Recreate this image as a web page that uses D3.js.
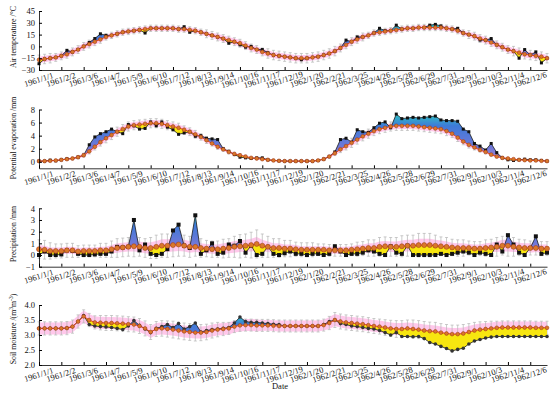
<!DOCTYPE html>
<html><head><meta charset="utf-8">
<script src="https://cdn.jsdelivr.net/npm/d3@7"></script>
<style>
body{margin:0;background:#fff;}
svg{display:block;font-family:"Liberation Serif","Times New Roman",serif;}
</style></head>
<body><svg id="chart" width="550" height="399"></svg>
<script>
// ---------- DATA (8-day steps starting 1961/1/1) ----------
const nPoints = 92;
const startDate = new Date(1961, 0, 1);
const tickLabels = ["1961/1/1","1961/2/2","1961/3/6","1961/4/7","1961/5/9","1961/6/10","1961/7/12","1961/8/13","1961/9/14","1961/10/16","1961/11/17","1961/12/19","1962/1/20","1962/2/21","1962/3/25","1962/4/26","1962/5/28","1962/6/29","1962/7/31","1962/9/1","1962/10/3","1962/11/4","1962/12/6"];

// Air temperature (°C)
const tempSim = [-17,-16,-15,-14,-12,-10,-7,-4, 0,3,6,9,12,14,16,18, 19,20,21,22,23,23,23,23, 23,22,22,21,20,18,16,14, 12,10,8,6,4,1,-2,-4, -7,-9,-11,-12,-13,-14,-15,-15, -15,-14,-13,-11,-9,-6,-2,2, 6,9,12,14,17,18,19,20, 21,22,23,23,24,24,24,24, 24,23,22,20,17,15,13,10, 8,5,2,-1,-4,-6,-8,-10, -11,-12,-13,-15];
const tempObs = [-22,-16,-15,-14,-12,-5,-7,-4, 0,5,10,16,14,14,16,18, 19,20,21,17,23,23,23,23, 23,22,25,18,20,18,16,14, 12,10,4,6,2,-1,0,-4, -4,-8,-11,-12,-13,-14,-15,-17, -15,-14,-13,-11,-9,-6,-2,8, 6,12,12,14,17,23,20,20, 27,22,23,23,24,24,27,28, 26,23,22,23,17,15,13,8, 8,10,2,-1,-4,-6,-15,-4, -11,-7,-21,-15];
const tempBand = [4,4,4,4,4,4,4,4, 4,4,4,4,3,3,3,3, 3,3,3,3,3,3,3,3, 3,3,3,3,3,3,3,3, 4,4,4,4,4,4,4,4, 4,4,4,4,4,4,4,4, 4,4,4,4,4,4,4,4, 4,4,4,3,3,3,3,3, 3,3,3,3,3,3,3,3, 3,3,3,3,3,3,4,4, 4,4,4,4,4,4,4,4, 4,4,4,4];
const tempErr = [6,6,6,5,5,5,5,5, 5,5,5,5,4,4,4,4, 4,4,4,4,4,4,4,4, 4,4,4,4,4,4,5,5, 5,5,5,5,5,5,5,5, 5,6,6,6,6,6,6,6, 6,6,6,6,6,6,5,5, 5,5,5,4,4,4,4,4, 4,4,4,4,4,4,4,4, 4,4,4,4,4,5,5,5, 5,5,5,5,5,6,6,6, 6,6,6,6];

// Potential evaporation (mm)
const evapSim = [0.1,0.1,0.15,0.2,0.3,0.4,0.5,0.7, 1.0,1.6,2.3,3.0,3.6,4.1,4.6,5.0, 5.4,5.6,5.7,5.8,5.9,5.9,5.8,5.6, 5.4,5.2,4.9,4.6,4.2,3.8,3.3,2.8, 2.3,1.9,1.5,1.2,1.0,0.8,0.6,0.5, 0.4,0.3,0.2,0.15,0.1,0.1,0.1,0.1, 0.1,0.1,0.2,0.4,0.8,1.3,1.9,2.4, 2.9,3.4,3.9,4.3,4.7,5.0,5.2,5.4, 5.5,5.5,5.5,5.5,5.4,5.3,5.2,5.1, 5.0,4.7,4.3,3.7,3.1,2.6,2.2,1.8, 1.5,1.1,0.8,0.6,0.5,0.4,0.3,0.25, 0.2,0.2,0.15,0.1];
const evapObs = [0.1,0.1,0.25,0.15,0.3,0.45,0.5,0.7, 1.0,2.6,3.8,4.3,4.6,5.0,4.6,4.3, 5.7,5.5,5.0,5.1,6.1,5.5,6.1,5.3, 4.9,4.2,4.4,4.6,3.9,4.0,3.6,3.5, 3.4,2.0,1.6,1.1,0.7,0.6,0.5,0.6, 0.6,0.3,0.2,0.15,0.1,0.1,0.1,0.1, 0.1,0.1,0.2,0.4,0.8,1.5,3.4,3.6, 3.0,4.9,4.6,4.5,5.2,5.9,6.1,5.2, 7.3,6.6,6.7,6.8,6.7,6.8,6.9,7.0, 6.4,6.3,6.3,6.2,5.0,4.6,2.8,2.4, 1.8,2.8,1.4,0.6,0.3,0.2,0.3,0.4, 0.3,0.3,0.2,0.1];
const evapBand = [0.1,0.1,0.1,0.1,0.1,0.1,0.15,0.2, 0.25,0.3,0.4,0.5,0.5,0.5,0.5,0.5, 0.5,0.5,0.5,0.5,0.5,0.5,0.5,0.5, 0.5,0.5,0.5,0.5,0.5,0.4,0.4,0.3, 0.3,0.25,0.2,0.2,0.15,0.15,0.1,0.1, 0.1,0.1,0.1,0.1,0.1,0.1,0.1,0.1, 0.1,0.1,0.1,0.1,0.2,0.3,0.4,0.5, 0.5,0.5,0.5,0.5,0.5,0.5,0.5,0.5, 0.5,0.5,0.5,0.5,0.5,0.5,0.5,0.5, 0.5,0.5,0.5,0.5,0.4,0.4,0.3,0.25, 0.2,0.2,0.15,0.1,0.1,0.1,0.1,0.1, 0.1,0.1,0.1,0.1];
const evapErr = [0.1,0.1,0.1,0.1,0.1,0.15,0.2,0.25, 0.3,0.4,0.5,0.6,0.7,0.7,0.7,0.7, 0.7,0.7,0.7,0.7,0.7,0.7,0.7,0.7, 0.7,0.7,0.6,0.6,0.6,0.5,0.5,0.4, 0.4,0.3,0.3,0.25,0.2,0.2,0.15,0.1, 0.1,0.1,0.1,0.1,0.1,0.1,0.1,0.1, 0.1,0.1,0.1,0.15,0.25,0.35,0.5,0.6, 0.7,0.7,0.7,0.7,0.7,0.7,0.7,0.7, 0.7,0.7,0.7,0.7,0.7,0.7,0.7,0.7, 0.7,0.7,0.6,0.6,0.5,0.5,0.4,0.3, 0.3,0.25,0.2,0.15,0.1,0.1,0.1,0.1, 0.1,0.1,0.1,0.1];

// Precipitation (mm)
const precSim = [0.5,0.45,0.35,0.35,0.35,0.4,0.4,0.3, 0.35,0.35,0.35,0.4,0.4,0.5,0.6,0.65, 0.7,0.75,0.7,0.6,0.6,0.7,0.8,0.8, 0.85,0.9,0.8,0.7,0.7,0.6,0.55,0.5, 0.5,0.55,0.6,0.7,0.75,0.8,0.85,0.95, 0.8,0.7,0.6,0.6,0.55,0.55,0.5,0.45, 0.45,0.45,0.45,0.45,0.4,0.4,0.4,0.4, 0.45,0.5,0.55,0.6,0.6,0.7,0.75,0.7, 0.7,0.75,0.8,0.8,0.85,0.85,0.85,0.8, 0.75,0.7,0.65,0.6,0.6,0.6,0.55,0.55, 0.6,0.65,0.7,0.8,0.8,0.7,0.65,0.6, 0.6,0.6,0.55,0.55];
const precObs = [0.0,0.3,0.0,0.0,0.05,0.4,0.35,0.1, 0.0,0.0,0.05,0.1,0.1,0.3,0.7,0.65, 0.7,3.0,0.4,0.9,0.1,0.0,0.1,0.5, 2.1,2.6,0.8,0.6,3.4,0.1,0.4,1.0, 0.1,0.2,0.9,0.8,1.2,0.2,0.8,0.0, 0.1,0.7,0.1,0.0,0.15,0.3,0.1,0.1, 0.0,0.1,0.1,0.0,0.1,0.75,0.3,0.0, 0.1,0.1,0.2,0.4,0.3,0.1,0.0,0.75, 0.2,0.1,0.8,0.0,0.0,0.0,0.0,0.0, 0.1,0.0,0.1,0.2,0.3,0.2,0.0,0.2, 0.1,0.0,0.9,0.3,1.7,0.9,0.2,0.0, 0.6,1.6,0.1,0.2];
const precBand = [0.35,0.35,0.3,0.3,0.3,0.3,0.3,0.3, 0.3,0.3,0.3,0.3,0.3,0.35,0.4,0.4, 0.4,0.45,0.45,0.45,0.5,0.5,0.55,0.55, 0.55,0.55,0.5,0.5,0.45,0.4,0.4,0.4, 0.4,0.45,0.45,0.5,0.5,0.5,0.55,0.6, 0.5,0.45,0.4,0.4,0.35,0.35,0.35,0.3, 0.3,0.3,0.3,0.3,0.3,0.3,0.3,0.3, 0.3,0.35,0.35,0.4,0.4,0.45,0.45,0.45, 0.45,0.5,0.5,0.5,0.55,0.55,0.55,0.5, 0.5,0.45,0.4,0.4,0.4,0.35,0.35,0.35, 0.4,0.4,0.45,0.5,0.5,0.45,0.4,0.4, 0.4,0.35,0.35,0.35];
const precErr = [0.8,0.8,0.7,0.6,0.6,0.6,0.6,0.5, 0.5,0.5,0.5,0.6,0.6,0.7,0.8,0.8, 0.8,0.9,0.8,0.8,0.9,1.0,1.0,1.0, 1.0,1.0,0.9,0.9,0.8,0.8,0.7,0.7, 0.7,0.8,0.8,0.9,1.0,1.0,1.1,1.2, 1.0,0.9,0.8,0.8,0.7,0.7,0.6,0.6, 0.6,0.6,0.5,0.5,0.5,0.5,0.5,0.5, 0.5,0.6,0.6,0.7,0.7,0.8,0.8,0.8, 0.8,0.9,0.9,0.9,1.0,1.0,1.0,0.9, 0.8,0.8,0.7,0.7,0.7,0.6,0.6,0.6, 0.7,0.7,0.8,0.8,0.9,0.8,0.7,0.7, 0.6,0.6,0.6,0.6];

// Soil moisture (m3 m-3)
const soilSim = [3.22,3.22,3.22,3.22,3.22,3.23,3.28,3.45, 3.62,3.5,3.42,3.41,3.4,3.4,3.39,3.38, 3.36,3.35,3.3,3.22,3.1,3.2,3.22,3.2, 3.18,3.15,3.12,3.1,3.08,3.08,3.1,3.15, 3.18,3.2,3.22,3.28,3.32,3.33,3.33,3.32, 3.32,3.32,3.31,3.3,3.3,3.3,3.3,3.3, 3.3,3.3,3.3,3.33,3.4,3.5,3.45,3.42, 3.4,3.38,3.36,3.33,3.3,3.28,3.25,3.22, 3.2,3.2,3.22,3.2,3.18,3.15,3.13,3.12, 3.08,3.05,3.03,3.03,3.05,3.1,3.15,3.18, 3.2,3.22,3.24,3.25,3.25,3.25,3.25,3.25, 3.25,3.24,3.24,3.24];
const soilObs = [3.22,3.22,3.22,3.22,3.22,3.23,3.28,3.45, 3.65,3.35,3.3,3.28,3.27,3.25,3.22,3.18, 3.3,3.48,3.32,3.2,3.08,3.22,3.28,3.35, 3.25,3.38,3.2,3.28,3.4,3.1,3.15,3.18, 3.2,3.22,3.25,3.4,3.6,3.45,3.42,3.42, 3.4,3.38,3.36,3.35,3.3,3.3,3.3,3.3, 3.3,3.3,3.3,3.35,3.45,3.5,3.38,3.35, 3.3,3.28,3.25,3.22,3.2,3.15,3.08,3.0, 3.08,2.95,2.95,2.94,2.95,2.88,2.75,2.7, 2.62,2.55,2.47,2.52,2.56,2.7,2.8,2.85, 2.9,2.93,2.95,2.95,2.95,2.95,2.95,2.95, 2.95,2.95,2.95,2.95];
const soilBand = [0.2,0.2,0.2,0.2,0.2,0.2,0.2,0.2, 0.2,0.2,0.2,0.2,0.2,0.2,0.2,0.2, 0.2,0.2,0.2,0.2,0.2,0.2,0.2,0.2, 0.2,0.2,0.2,0.2,0.2,0.2,0.2,0.2, 0.2,0.2,0.2,0.2,0.2,0.2,0.2,0.2, 0.18,0.18,0.18,0.18,0.18,0.18,0.18,0.18, 0.18,0.18,0.18,0.18,0.2,0.2,0.2,0.2, 0.2,0.2,0.2,0.2,0.2,0.2,0.2,0.2, 0.2,0.2,0.2,0.2,0.2,0.2,0.2,0.2, 0.2,0.2,0.2,0.2,0.2,0.2,0.2,0.2, 0.2,0.2,0.2,0.2,0.2,0.2,0.2,0.2, 0.2,0.2,0.2,0.2];
const soilErr = [0.22,0.22,0.22,0.22,0.22,0.22,0.22,0.22, 0.22,0.22,0.22,0.24,0.25,0.25,0.25,0.25, 0.25,0.25,0.25,0.25,0.25,0.25,0.26,0.27, 0.28,0.28,0.28,0.28,0.28,0.27,0.26,0.25, 0.24,0.22,0.2,0.2,0.2,0.2,0.2,0.2, 0.2,0.2,0.2,0.2,0.2,0.2,0.2,0.2, 0.2,0.2,0.2,0.2,0.22,0.25,0.25,0.25, 0.25,0.25,0.25,0.25,0.25,0.25,0.26,0.27, 0.28,0.28,0.28,0.3,0.3,0.3,0.3,0.3, 0.3,0.3,0.3,0.3,0.3,0.28,0.27,0.26, 0.25,0.24,0.22,0.22,0.22,0.22,0.22,0.22, 0.22,0.22,0.22,0.22];

// ---------- LAYOUT ----------
const dates = d3.range(nPoints).map(i => d3.timeDay.offset(startDate, 8 * i));
const tickDates = tickLabels.map(s => { const p = s.split("/").map(Number); return new Date(p[0], p[1]-1, p[2]); });

const svg = d3.select("#chart");
const x = d3.scaleTime().domain([startDate, d3.timeDay.offset(startDate, 728)]).range([39, 547]);

const defs = svg.append("defs");
const grad = defs.append("linearGradient").attr("id","blueGrad").attr("x1",0).attr("y1",0).attr("x2",0).attr("y2",1);
grad.append("stop").attr("offset","0%").attr("stop-color","#2fc4c4");
grad.append("stop").attr("offset","25%").attr("stop-color","#3d7ad8");
grad.append("stop").attr("offset","70%").attr("stop-color","#6f78d8");
grad.append("stop").attr("offset","100%").attr("stop-color","#a488d8");

const panels = [
  {id:"t", sim:tempSim, obs:tempObs, band:tempBand, err:tempErr, domain:[-30,45], range:[70,11], ticks:[-30,-15,0,15,30,45], fmt:d3.format("d"), label:["Air temperature /°C"], labelY:37, sq:3, obsCircle:false},
  {id:"e", sim:evapSim, obs:evapObs, band:evapBand, err:evapErr, domain:[-1,8], range:[168.3,109.5], ticks:[0,2,4,6,8], fmt:d3.format("d"), label:["Potential evaporation /mm"], labelY:138, sq:3, obsCircle:false},
  {id:"p", sim:precSim, obs:precObs, band:precBand, err:precErr, domain:[-1,4], range:[266.7,208.3], ticks:[-1,0,1,2,3,4], fmt:d3.format("d"), label:["Precipitation /mm"], labelY:234, sq:4, obsCircle:false},
  {id:"s", sim:soilSim, obs:soilObs, band:soilBand, err:soilErr, domain:[2,4], range:[365,305], ticks:[2,2.5,3,3.5,4], fmt:d3.format(".1f"), label:null, labelY:329, sq:3, obsCircle:true}
];

panels.forEach(P => {
  const y = d3.scaleLinear().domain(P.domain).range(P.range);
  const g = svg.append("g");
  const data = dates.map((d,i) => ({d, sim:P.sim[i], obs:P.obs[i], band:P.band[i], err:P.err[i]}));
  const top = P.range[1] - 20, bot = P.range[0] + 5;

  // pink band
  g.append("path").datum(data)
    .attr("d", d3.area().x(d=>x(d.d)).y0(d=>y(d.sim-d.band)).y1(d=>y(d.sim+d.band)))
    .attr("fill","#ffb6e4").attr("fill-opacity",0.75);

  // grey error bars
  const eb = g.append("g").attr("stroke","#b4b4b4").attr("stroke-width",0.7);
  data.forEach(d => {
    const xx = x(d.d), y1 = y(d.sim+d.err), y2 = y(d.sim-d.err);
    eb.append("line").attr("x1",xx).attr("x2",xx).attr("y1",y1).attr("y2",y2);
    eb.append("line").attr("x1",xx-1.5).attr("x2",xx+1.5).attr("y1",y1).attr("y2",y1);
    eb.append("line").attr("x1",xx-1.5).attr("x2",xx+1.5).attr("y1",y2).attr("y2",y2);
  });

  // clip paths (above / below simulated line)
  defs.append("clipPath").attr("id","above"+P.id).append("path").datum(data)
    .attr("d", d3.area().x(d=>x(d.d)).y0(top).y1(d=>y(d.sim)));
  defs.append("clipPath").attr("id","below"+P.id).append("path").datum(data)
    .attr("d", d3.area().x(d=>x(d.d)).y0(bot).y1(d=>y(d.sim)));
  const between = d3.area().x(d=>x(d.d)).y0(d=>y(d.sim)).y1(d=>y(d.obs));
  g.append("path").datum(data).attr("d", between).attr("fill","url(#blueGrad)").attr("clip-path","url(#above"+P.id+")");
  g.append("path").datum(data).attr("d", between).attr("fill","#f7e610").attr("clip-path","url(#below"+P.id+")");

  // lines
  g.append("path").datum(data).attr("d", d3.line().x(d=>x(d.d)).y(d=>y(d.obs)))
    .attr("fill","none").attr("stroke","#1a1a1a").attr("stroke-width",0.8);
  g.append("path").datum(data).attr("d", d3.line().x(d=>x(d.d)).y(d=>y(d.sim)))
    .attr("fill","none").attr("stroke","#e8461a").attr("stroke-width",1);

  // obs markers
  if (P.obsCircle) {
    g.selectAll(".om").data(data).enter().append("circle")
      .attr("cx",d=>x(d.d)).attr("cy",d=>y(d.obs)).attr("r",1.8).attr("fill","#333");
  } else {
    g.selectAll(".om").data(data).enter().append("rect")
      .attr("x",d=>x(d.d)-P.sq/2).attr("y",d=>y(d.obs)-P.sq/2).attr("width",P.sq).attr("height",P.sq).attr("fill","#111");
  }
  // sim markers
  g.selectAll(".sm").data(data).enter().append("circle")
    .attr("cx",d=>x(d.d)).attr("cy",d=>y(d.sim)).attr("r", P.id==="p" ? 2.5 : 1.9)
    .attr("fill","#d9782a").attr("stroke","#9c2f14").attr("stroke-width",0.5);

  // y axis
  const ya = g.append("g").attr("transform","translate(39,0)")
    .call(d3.axisLeft(y).tickValues(P.ticks).tickFormat(P.fmt).tickSizeInner(-3).tickSizeOuter(0).tickPadding(4));
  ya.select(".domain").attr("stroke","#000").attr("stroke-width",0.8);
  ya.selectAll("text").attr("font-size","8.5px").attr("font-family","Liberation Serif").attr("fill","#111");

  // x axis
  const xa = g.append("g").attr("transform","translate(0,"+P.range[0]+")")
    .call(d3.axisBottom(x).tickValues(tickDates).tickFormat(()=>"").tickSizeInner(-3).tickSizeOuter(0));
  xa.select(".domain").attr("stroke","#000").attr("stroke-width",0.8);
  tickDates.forEach((td,i) => {
    g.append("text").attr("transform","translate("+x(td)+","+(P.range[0]+10.5)+") rotate(-18)")
      .attr("text-anchor","middle").attr("dominant-baseline","middle")
      .attr("font-size","8.5px").attr("fill","#111").text(tickLabels[i]);
  });

  // y label
  const lt = g.append("text").attr("transform","translate(16,"+P.labelY+") rotate(-90)")
    .attr("text-anchor","middle").attr("font-size","7.8px").attr("fill","#111");
  if (P.label) lt.text(P.label[0]);
  else {
    lt.append("tspan").text("Soil moisture /(m");
    lt.append("tspan").attr("baseline-shift","super").attr("font-size","5.5px").text("3");
    lt.append("tspan").text("m");
    lt.append("tspan").attr("baseline-shift","super").attr("font-size","5.5px").text("-3");
    lt.append("tspan").text(")");
  }
});

svg.append("text").attr("x",280).attr("y",389).attr("text-anchor","middle").attr("font-size","8.5px").attr("fill","#111").text("Date");
</script></body></html>
